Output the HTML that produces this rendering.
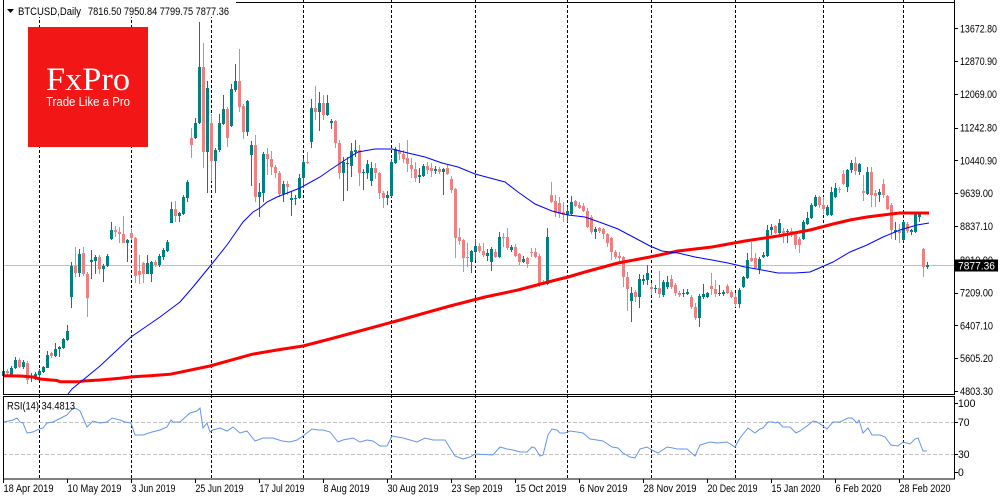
<!DOCTYPE html>
<html><head><meta charset="utf-8"><style>
html,body{margin:0;padding:0;background:#fff;width:1000px;height:500px;overflow:hidden}
svg{display:block}
text{font-family:"Liberation Sans",sans-serif;font-size:11px;fill:#000}
</style></head><body>
<svg id="c" width="1000" height="500" xmlns="http://www.w3.org/2000/svg">
<g id="grid" shape-rendering="crispEdges"></g>
<line x1="3" y1="265.5" x2="954" y2="265.5" stroke="#C0C0C0" stroke-width="1" shape-rendering="crispEdges"/>
<line x1="3" y1="422.5" x2="954" y2="422.5" stroke="#C0C0C0" stroke-width="1" stroke-dasharray="4,2" shape-rendering="crispEdges"/>
<line x1="3" y1="454.5" x2="954" y2="454.5" stroke="#C0C0C0" stroke-width="1" stroke-dasharray="4,2" shape-rendering="crispEdges"/>
<rect x="0" y="0" width="236" height="17" fill="#fff"/>
<g id="cand" shape-rendering="crispEdges"></g>
<polyline id="red" fill="none" stroke="#FF0000" stroke-width="3" stroke-linejoin="round"/>
<polyline id="blue" fill="none" stroke="#0000FF" stroke-width="1"/>
<polyline id="rsi" fill="none" stroke="#6495ED" stroke-width="1"/>
<g shape-rendering="crispEdges" stroke="#000" stroke-width="1" fill="none">
<line x1="3.5" y1="0" x2="3.5" y2="394"/>
<line x1="954.5" y1="0" x2="954.5" y2="394"/>
<line x1="236" y1="2.5" x2="954.5" y2="2.5"/>
<line x1="3" y1="394.5" x2="955" y2="394.5"/>
<rect x="3.5" y="396.5" width="951" height="82.5"/>
</g>
<g id="ticks" shape-rendering="crispEdges"></g>
<!-- header -->
<polygon points="7,9 14,9 10.5,13" fill="#000"/>
<text x="18" y="15" textLength="63" lengthAdjust="spacingAndGlyphs">BTCUSD,Daily</text>
<text x="88" y="15" textLength="141" lengthAdjust="spacingAndGlyphs">7816.50 7950.84 7799.75 7877.36</text>
<!-- logo -->
<rect x="28" y="27" width="120" height="120" fill="#F31616"/>
<text x="46" y="90" textLength="84" lengthAdjust="spacingAndGlyphs" style="font-family:'Liberation Serif',serif;font-size:33px;fill:#fff">FxPro</text>
<text x="46" y="106" textLength="84" lengthAdjust="spacingAndGlyphs" style="font-size:12.5px;fill:#fff">Trade Like a Pro</text>
<!-- RSI label -->
<text x="7" y="409.5" textLength="68" lengthAdjust="spacingAndGlyphs">RSI(14) 34.4813</text>
<g id="axis"></g>
<rect x="955" y="259.5" width="43" height="12" fill="#000"/>
<text x="958" y="269.5" textLength="37" lengthAdjust="spacingAndGlyphs" style="fill:#fff">7877.36</text>
</svg>
<script>
const C=[[0,'u',371,376,369,378],[1,'d',371,373,369,376],[2,'u',368,376,366,377],[3,'u',360,368,357,369],[4,'d',360,367,358,368],[5,'u',362,367,360,369],[6,'d',363,380,361,384],[7,'u',377,378,373,382],[8,'u',374,379,372,380],[9,'u',371,375,369,377],
[10,'u',367,372,366,373],[11,'u',355,368,351,368],[12,'d',353,356,352,358],[13,'u',349,356,343,357],[14,'u',347,349,346,357],[15,'u',339,348,338,349],[16,'u',331,340,325,341],[17,'u',266,297,262,308],[18,'d',266,273,247,277],[19,'u',254,273,249,277],
[20,'d',253,274,247,276],[21,'d',274,298,272,317],[22,'u',260,262,250,279],[23,'u',257,261,255,274],[24,'d',257,269,255,274],[25,'u',266,269,264,282],[26,'u',256,266,254,267],[27,'u',230,239,222,240],[28,'d',230,232,226,237],[29,'d',232,234,227,243],
[30,'d',234,243,216,243],[31,'u',240,243,239,262],[32,'d',233,238,229,240],[33,'d',238,276,237,283],[34,'d',271,275,255,284],[35,'d',263,274,262,283],[36,'u',263,274,255,274],[37,'u',262,274,261,282],[38,'d',262,265,260,267],[39,'u',256,265,254,267],
[40,'u',250,257,248,260],[41,'u',242,251,240,252],[42,'u',209,223,202,223],[43,'d',209,216,201,222],[44,'u',213,216,212,222],[45,'u',197,214,195,215],[46,'u',182,198,180,202],[47,'d',138,145,128,158],[48,'u',123,138,118,139],[49,'u',67,123,22,124],
[50,'d',67,152,43,168],[51,'u',88,152,81,193],[52,'d',123,161,114,181],[53,'u',150,161,148,193],[54,'u',123,150,114,152],[55,'u',109,124,95,125],[56,'d',109,138,107,147],[57,'u',89,126,84,127],[58,'u',81,90,64,92],[59,'d',81,107,49,112],
[60,'d',106,132,104,139],[61,'u',101,132,100,136],[62,'u',145,155,141,186],[63,'d',145,197,135,202],[64,'u',192,197,183,217],[65,'u',154,193,152,202],[66,'d',154,159,148,175],[67,'d',159,167,151,175],[68,'d',167,173,165,178],[69,'d',173,194,171,197],
[70,'u',184,194,181,202],[71,'d',184,187,181,195],[72,'u',198,200,192,216],[73,'u',198,199,195,205],[74,'u',178,198,174,199],[75,'u',162,178,158,188],[76,'d',162,163,152,164],[77,'u',108,142,99,148],[78,'d',108,112,86,120],[79,'u',103,112,92,131],
[80,'d',103,115,95,120],[81,'u',103,115,95,116],[82,'u',121,123,119,129],[83,'d',121,143,120,148],[84,'d',143,173,140,179],[85,'u',162,173,157,201],[86,'u',163,164,157,191],[87,'u',151,166,143,177],[88,'u',150,152,140,157],[89,'d',150,173,145,186],
[90,'u',172,173,169,190],[91,'u',164,173,160,179],[92,'u',168,181,162,186],[93,'d',168,173,163,179],[94,'d',173,193,172,199],[95,'d',193,198,191,208],[96,'u',195,198,191,205],[97,'u',162,196,159,197],[98,'u',149,163,147,164],[99,'d',151,154,143,160],
[100,'d',154,159,150,163],[101,'d',158,164,140,172],[102,'d',165,169,158,178],[103,'d',169,178,162,182],[104,'u',175,177,168,183],[105,'u',166,176,164,177],[106,'d',166,170,162,174],[107,'d',168,171,163,177],[108,'u',169,171,166,174],[109,'d',169,172,167,174],
[110,'u',169,172,168,195],[111,'d',168,174,165,175],[112,'d',179,190,176,193],[113,'d',189,238,188,258],[114,'d',237,241,228,245],[115,'d',240,258,239,272],[116,'d',257,258,243,267],[117,'u',251,262,250,273],[118,'u',246,252,239,260],[119,'d',246,251,243,253],
[120,'d',251,255,243,257],[121,'u',253,256,249,261],[122,'u',249,262,247,271],[123,'d',252,257,249,258],[124,'u',237,257,232,258],[125,'d',237,238,233,247],[126,'d',237,248,228,250],[127,'u',247,250,245,252],[128,'d',247,256,244,257],[129,'d',254,262,253,265],
[130,'u',259,262,256,263],[131,'d',258,264,257,268],[132,'d',252,253,248,257],[133,'d',252,257,248,258],[134,'d',256,283,254,287],[135,'d',282,284,280,285],[136,'u',237,284,228,285],[137,'d',195,202,182,203],[138,'d',201,213,195,217],[139,'d',203,214,197,218],
[140,'d',212,215,202,222],[141,'u',211,215,207,222],[142,'u',202,214,196,215],[143,'d',201,206,200,207],[144,'d',205,208,202,209],[145,'d',206,211,203,212],[146,'d',211,227,208,228],[147,'d',217,232,215,234],[148,'u',229,232,227,239],[149,'d',228,231,227,233],
[150,'d',229,234,228,239],[151,'d',234,243,233,247],[152,'d',238,252,237,260],[153,'d',252,257,250,259],[154,'d',256,258,252,263],[155,'d',257,277,256,287],[156,'d',277,289,272,311],[157,'u',293,301,287,322],[158,'d',292,297,290,302],[159,'u',279,297,274,308],
[160,'u',279,281,275,285],[161,'u',273,280,265,285],[162,'d',287,289,283,295],[163,'u',288,289,285,293],[164,'d',288,294,271,298],[165,'u',282,295,280,297],[166,'u',282,287,276,289],[167,'d',279,287,275,289],[168,'d',285,293,283,296],[169,'d',293,295,291,297],
[170,'u',293,294,289,297],[171,'u',292,294,289,295],[172,'d',297,307,295,309],[173,'d',307,318,303,320],[174,'u',296,318,294,327],[175,'u',294,297,284,299],[176,'u',293,297,292,298],[177,'d',286,289,273,295],[178,'d',289,294,280,297],[179,'u',293,294,285,296],
[180,'u',292,294,290,296],[181,'d',286,293,284,294],[182,'d',292,297,290,298],[183,'d',297,304,293,307],[184,'u',290,304,288,308],[185,'u',277,287,276,288],[186,'u',260,278,253,279],[187,'d',258,261,242,262],[188,'d',258,268,253,269],[189,'u',259,269,257,274],
[190,'u',255,257,252,258],[191,'u',230,256,225,257],[192,'u',227,230,224,235],[193,'d',226,233,225,234],[194,'u',223,233,219,234],[195,'d',231,233,228,243],[196,'u',231,232,229,243],[197,'d',231,234,228,237],[198,'d',233,245,232,249],[199,'d',239,245,237,253],
[200,'u',222,239,220,240],[201,'u',218,224,212,225],[202,'u',205,218,203,219],[203,'u',197,206,195,207],[204,'d',197,205,196,208],[205,'d',205,209,197,214],[206,'u',207,215,205,216],[207,'u',192,215,187,216],[208,'u',188,197,183,198],[209,'d',189,190,187,193],
[210,'d',174,184,170,185],[211,'u',170,187,169,192],[212,'u',163,170,160,173],[213,'d',163,171,157,175],[214,'u',164,172,163,175],[215,'d',191,193,175,201],[216,'u',172,194,167,195],[217,'d',172,195,167,207],[218,'d',193,196,190,207],[219,'u',192,195,189,202],
[220,'d',184,195,179,198],[221,'d',196,209,195,210],[222,'d',205,230,203,239],[223,'u',230,232,222,240],[224,'d',231,233,224,243],[225,'u',222,240,221,241],[226,'d',224,231,222,233],[227,'u',230,232,229,235],[228,'u',213,232,212,233],[229,'u',213,217,212,222],
[230,'d',249,267,248,277],[231,'u',265,267,262,269]];
let s='';
for(const [k,t,bt,bb,wt,wb] of C){const col=t=='u'?'#008080':'#F08080';const x=4*k+2;
s+=`<rect x="${x+1}" y="${wt}" width="1" height="${Math.max(1,wb-wt)}" fill="${col}"/><rect x="${x}" y="${bt}" width="3" height="${Math.max(1,bb-bt)}" fill="${col}"/>`;}
document.getElementById('cand').innerHTML=s;
// grid dashed lines
let g='';
for(const k of [9,32,52,75,97,118,141,162,183,205,225]){const x=4*k+3.5;g+=`<line x1="${x}" y1="0" x2="${x}" y2="479" stroke="#000" stroke-width="1" stroke-dasharray="3,2"/>`;}
document.getElementById('grid').innerHTML=g;
const red=[[4,375.7],[20,376],[33,377],[40,379],[57,380.5],[60,381.7],[80,381.7],[83,381],[100,380],[120,378.3],[133,376.7],[150,375.7],[170,374.3],[210,366],[252,354.3],[277,350],[303,346],[330,339],[400,320],[450,306],[485,297],[518,290],[552,281],[568,277],[585,272],[618,263],[650,257],[678,251],[712,247],[745,241],[778,236],[810,230],[833,224],[850,220],[867,217],[883,215],[900,213],[929,213]];
document.getElementById('red').setAttribute('points',red.map(p=>p.join(',')).join(' '));
const blue=[[68,394],[72,389],[100,366],[131,337],[160,317],[180,302],[193,287],[211,265],[227,245],[243,222],[253,212],[260,208],[267,202],[277,197],[300,188],[320,177],[330,170],[345,160],[358,152],[375,149],[392,149],[408,153],[425,157],[442,163],[458,167],[475,174],[490,178],[505,182],[518,192],[535,204],[552,211],[568,215],[585,217],[602,223],[618,229],[635,238],[650,246],[662,251],[678,253],[695,257],[712,260],[728,263],[745,267],[762,270],[778,273],[795,273],[810,272],[817,269],[833,262],[850,252],[867,245],[883,237],[900,230],[917,225],[929,223]];
document.getElementById('blue').setAttribute('points',blue.map(p=>p.join(',')).join(' '));
const rsi=[[4,422],[13,420],[17,418],[20,422],[23,423],[27,433],[33,432],[39,429],[43,428],[47,423],[53,422],[63,417],[67,415],[73,408],[77,409],[80,411],[87,427],[93,421],[100,423],[107,422],[112,418],[120,420],[125,422],[131,423],[135,435],[143,435],[152,432],[160,430],[167,427],[171,420],[173,422],[180,422],[190,413],[197,411],[200,408],[203,428],[207,423],[210,432],[213,430],[220,428],[227,431],[233,427],[240,433],[247,431],[255,441],[263,438],[273,438],[282,441],[290,442],[297,440],[303,436],[312,429],[318,430],[323,430],[330,432],[338,442],[343,440],[353,438],[360,442],[367,440],[373,441],[380,446],[387,446],[392,436],[403,438],[417,442],[425,438],[433,440],[445,440],[455,456],[463,459],[470,457],[475,454],[493,455],[500,447],[507,449],[513,450],[520,452],[527,452],[532,447],[535,448],[540,456],[543,455],[548,435],[552,429],[557,430],[560,433],[565,433],[570,431],[577,432],[583,433],[590,439],[597,440],[603,441],[612,447],[618,448],[623,453],[630,457],[635,458],[640,449],[647,447],[652,450],[658,453],[667,447],[673,448],[677,449],[687,449],[695,456],[700,445],[710,442],[717,443],[727,442],[735,447],[740,438],[748,428],[755,433],[760,429],[763,428],[768,422],[773,422],[775,423],[778,422],[783,427],[790,427],[796,433],[800,431],[807,426],[813,421],[817,422],[823,426],[827,429],[833,422],[840,422],[848,418],[852,418],[857,423],[859,420],[863,433],[868,428],[872,435],[880,435],[885,437],[891,445],[898,446],[903,442],[910,444],[915,439],[918,438],[923,451],[927,451]];
document.getElementById('rsi').setAttribute('points',rsi.map(p=>p.join(',')).join(' '));
// axis labels
let a='';let tk='';
const P=['13672.80','12870.90','12069.00','11242.80','10440.90','9639.00','8837.10','8010.90','7209.00','6407.10','5605.20','4803.30'];
for(const p of P){const y=28.3+(13672.8-parseFloat(p))*0.04089;const w=p.length==8?37:33;
a+=`<text x="960" y="${(y+4).toFixed(1)}" textLength="${w}" lengthAdjust="spacingAndGlyphs">${p}</text>`;
tk+=`<line x1="954" y1="${Math.round(y)+0.5}" x2="958" y2="${Math.round(y)+0.5}" stroke="#000"/>`;}
for(const [v,y] of [['100',403],['70',422],['30',454],['0',472]]){a+=`<text x="958" y="${y+4}" textLength="${v.length*5.8}" lengthAdjust="spacingAndGlyphs">${v}</text>`;tk+=`<line x1="954" y1="${y+0.5}" x2="958" y2="${y+0.5}" stroke="#000"/>`;}
const D=[['18 Apr 2019',50],['10 May 2019',54],['3 Jun 2019',44],['25 Jun 2019',48],['17 Jul 2019',45],['8 Aug 2019',46],['30 Aug 2019',51],['23 Sep 2019',51],['15 Oct 2019',51],['6 Nov 2019',48],['28 Nov 2019',53],['20 Dec 2019',50],['15 Jan 2020',49],['6 Feb 2020',46],['28 Feb 2020',51]];
D.forEach(([t,w],j)=>{const x=3.5+64*j;a+=`<text x="${x}" y="492" textLength="${w}" lengthAdjust="spacingAndGlyphs">${t}</text>`;tk+=`<line x1="${x}" y1="479" x2="${x}" y2="483" stroke="#000"/>`;});
document.getElementById('axis').innerHTML=a;
document.getElementById('ticks').innerHTML=tk;
</script>
</body></html>
